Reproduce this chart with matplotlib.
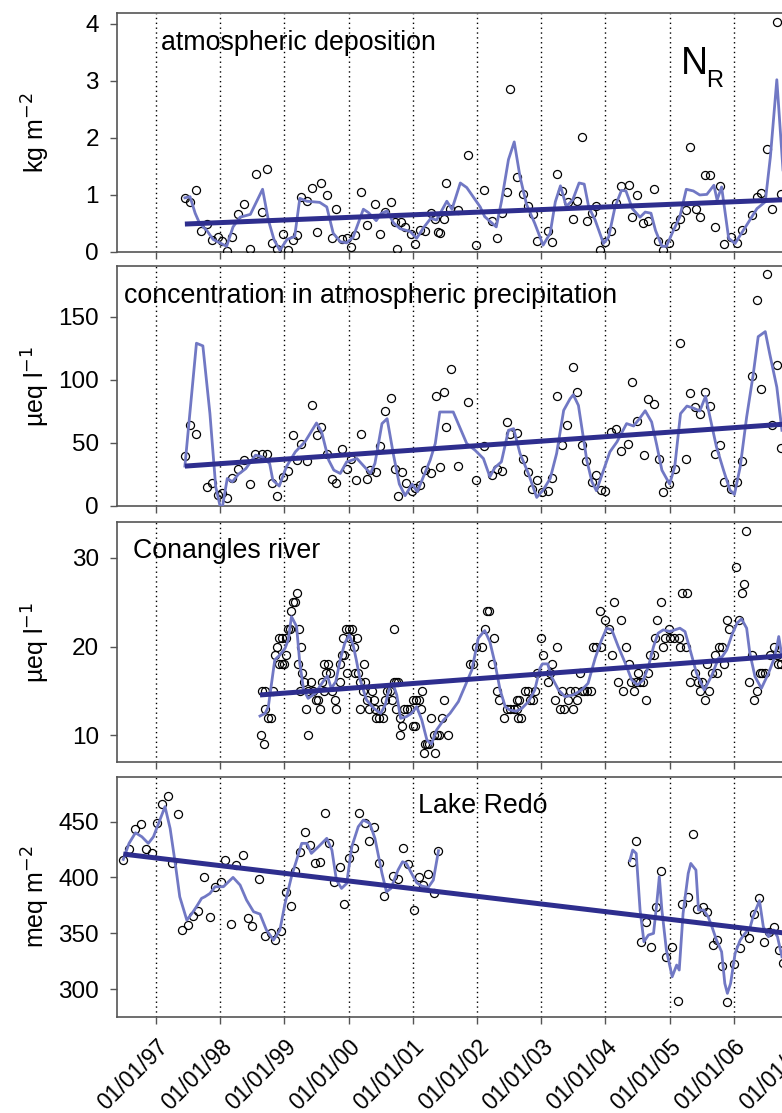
import numpy as np
import matplotlib
matplotlib.use("Agg")
import matplotlib.pyplot as plt

plt.rcParams['font.family'] = ['Liberation Sans', 'DejaVu Sans']

# ---------------- data ----------------
year_ticks = [1997, 1998, 1999, 2000, 2001, 2002, 2003, 2004, 2005, 2006, 2007]
year_labels = ["01/01/97", "01/01/98", "01/01/99", "01/01/00", "01/01/01", "01/01/02",
               "01/01/03", "01/01/04", "01/01/05", "01/01/06", "01/01/07"]

# Panel 1: atmospheric deposition (kg m-2)
dep_t = [1997.45, 1997.53, 1997.62, 1997.70, 1997.79, 1997.88, 1997.96, 1998.03, 1998.11, 1998.19,
         1998.28, 1998.37, 1998.46, 1998.55, 1998.65, 1998.73, 1998.81, 1998.89, 1998.98, 1999.06,
         1999.13, 1999.19, 1999.26, 1999.35, 1999.43, 1999.50, 1999.57, 1999.66, 1999.74, 1999.81,
         1999.90, 1999.97, 2000.04, 2000.10, 2000.19, 2000.28, 2000.41, 2000.49, 2000.57, 2000.66,
         2000.73, 2000.76, 2000.82, 2000.88, 2000.97, 2001.04, 2001.11, 2001.19, 2001.28, 2001.35,
         2001.40, 2001.42, 2001.48, 2001.52, 2001.58, 2001.71, 2001.86, 2001.99, 2002.11, 2002.23,
         2002.31, 2002.39, 2002.47, 2002.52, 2002.63, 2002.71, 2002.79, 2002.88, 2002.94, 2003.10,
         2003.17, 2003.24, 2003.33, 2003.41, 2003.49, 2003.56, 2003.64, 2003.71, 2003.79, 2003.86,
         2003.92, 2003.99, 2004.09, 2004.17, 2004.25, 2004.36, 2004.42, 2004.49, 2004.59, 2004.67,
         2004.75, 2004.82, 2004.90, 2004.99, 2005.09, 2005.16, 2005.25, 2005.32, 2005.41, 2005.48,
         2005.55, 2005.63, 2005.70, 2005.79, 2005.85, 2005.96, 2006.05, 2006.13, 2006.29, 2006.36,
         2006.43, 2006.51, 2006.59, 2006.67, 2006.74]
dep_v = [0.95, 0.88, 1.09, 0.36, 0.49, 0.21, 0.26, 0.20, 0.02, 0.26,
         0.66, 0.85, 0.05, 1.37, 0.70, 1.46, 0.15, 0.06, 0.32, 0.03,
         0.21, 0.29, 0.96, 0.90, 1.12, 0.35, 1.21, 1.00, 0.24, 0.75,
         0.23, 0.24, 0.08, 0.29, 1.05, 0.48, 0.85, 0.31, 0.71, 0.87,
         0.53, 0.06, 0.52, 0.44, 0.31, 0.14, 0.39, 0.37, 0.69, 0.57,
         0.35, 0.34, 0.58, 1.21, 0.76, 0.73, 1.70, 0.13, 1.08, 0.55,
         0.24, 0.69, 1.05, 2.85, 1.31, 1.01, 0.81, 0.67, 0.19, 0.36,
         0.17, 1.37, 1.07, 0.87, 0.58, 0.89, 2.02, 0.55, 0.69, 0.81,
         0.03, 0.17, 0.36, 0.86, 1.15, 1.18, 0.61, 1.00, 0.51, 0.54,
         1.10, 0.19, 0.03, 0.16, 0.46, 0.58, 0.73, 1.84, 0.76, 0.62,
         1.35, 1.35, 0.44, 1.15, 0.14, 0.26, 0.16, 0.39, 0.65, 0.96,
         1.04, 1.81, 0.76, 4.03, 1.02]
dep_smooth_t = [1997.45, 1997.53, 1997.61, 1997.68, 1997.79, 1997.89, 1998.10, 1998.20, 1998.31, 1998.47,
                1998.66, 1998.75, 1998.84, 1998.93, 1999.04, 1999.16, 1999.24, 1999.35, 1999.55, 1999.66,
                1999.76, 1999.87, 1999.97, 2000.07, 2000.23, 2000.31, 2000.43, 2000.51, 2000.60, 2000.70,
                2000.80, 2000.96, 2001.06, 2001.17, 2001.28, 2001.37, 2001.53, 2001.61, 2001.74, 2001.84,
                2002.05, 2002.12, 2002.30, 2002.38, 2002.49, 2002.58, 2002.67, 2002.77, 2002.90, 2003.03,
                2003.14, 2003.22, 2003.30, 2003.39, 2003.49, 2003.59, 2003.67, 2003.74, 2003.84, 2003.97,
                2004.05, 2004.15, 2004.25, 2004.32, 2004.42, 2004.54, 2004.62, 2004.71, 2004.78, 2004.88,
                2004.95, 2005.06, 2005.16, 2005.26, 2005.37, 2005.47, 2005.58, 2005.69, 2005.74, 2005.81,
                2005.92, 2006.02, 2006.12, 2006.25, 2006.36, 2006.49, 2006.57, 2006.67, 2006.77]
dep_smooth_v = [0.95, 0.97, 0.68, 0.50, 0.38, 0.22, 0.10, 0.44, 0.61, 0.66,
                1.10, 0.56, 0.21, 0.03, 0.22, 0.27, 0.94, 0.89, 0.87, 0.79,
                0.33, 0.18, 0.16, 0.26, 0.75, 0.69, 0.55, 0.68, 0.72, 0.51,
                0.41, 0.36, 0.24, 0.43, 0.59, 0.56, 0.89, 0.75, 1.21, 1.13,
                0.79, 0.62, 0.44, 0.88, 1.62, 1.93, 1.32, 0.84, 0.50, 0.12,
                0.33, 0.88, 1.16, 0.80, 0.91, 1.21, 1.19, 0.79, 0.56, 0.15,
                0.26, 0.79, 1.08, 1.07, 0.76, 0.61, 0.70, 0.68, 0.38, 0.10,
                0.10, 0.38, 0.62, 1.10, 1.07, 1.00, 1.01, 1.17, 0.91, 1.14,
                0.24, 0.15, 0.33, 0.56, 0.76, 0.88, 1.67, 3.02, 1.38]
dep_trend_t = [1997.45, 2007.3]
dep_trend_v = [0.49, 0.94]

# Panel 2: concentration in atmospheric precipitation (ueq l-1)
conc_t = [1997.45, 1997.53, 1997.62, 1997.79, 1997.88, 1997.96, 1998.03, 1998.11, 1998.19, 1998.28,
          1998.37, 1998.46, 1998.54, 1998.65, 1998.73, 1998.81, 1998.89, 1998.98, 1999.06, 1999.13,
          1999.19, 1999.26, 1999.35, 1999.43, 1999.50, 1999.57, 1999.66, 1999.74, 1999.81, 1999.90,
          1999.97, 2000.04, 2000.11, 2000.19, 2000.28, 2000.34, 2000.42, 2000.49, 2000.57, 2000.66,
          2000.73, 2000.77, 2000.83, 2000.89, 2000.98, 2001.04, 2001.11, 2001.19, 2001.29, 2001.36,
          2001.42, 2001.48, 2001.52, 2001.60, 2001.71, 2001.86, 2001.99, 2002.11, 2002.23, 2002.31,
          2002.39, 2002.47, 2002.52, 2002.63, 2002.71, 2002.79, 2002.86, 2002.94, 2003.01, 2003.10,
          2003.17, 2003.24, 2003.32, 2003.40, 2003.49, 2003.56, 2003.63, 2003.70, 2003.79, 2003.86,
          2003.93, 2003.99, 2004.09, 2004.17, 2004.25, 2004.35, 2004.42, 2004.49, 2004.60, 2004.67,
          2004.75, 2004.83, 2004.90, 2004.99, 2005.08, 2005.16, 2005.25, 2005.32, 2005.40, 2005.48,
          2005.55, 2005.63, 2005.70, 2005.79, 2005.85, 2005.96, 2006.05, 2006.13, 2006.28, 2006.36,
          2006.43, 2006.51, 2006.59, 2006.67, 2006.73]
conc_v = [39.5, 64.2, 57.1, 14.7, 17.9, 8.7, 10.0, 6.6, 21.8, 29.5,
          36.8, 17.6, 41.6, 41.6, 41.6, 18.4, 7.6, 22.6, 27.6, 56.3,
          36.3, 49.5, 35.3, 80.3, 56.3, 62.4, 41.6, 21.6, 18.4, 45.3,
          29.5, 37.6, 20.3, 57.1, 21.3, 28.2, 26.6, 47.4, 75.0, 85.3,
          29.5, 7.6, 26.6, 18.4, 11.8, 14.5, 16.6, 28.4, 25.8, 87.1,
          31.3, 90.3, 62.4, 108.2, 31.6, 82.1, 20.5, 47.4, 24.5, 29.0,
          27.4, 66.3, 56.9, 58.2, 37.4, 26.6, 13.4, 20.5, 10.8, 11.6,
          22.4, 87.1, 48.4, 64.2, 110.0, 90.0, 48.2, 35.3, 18.7, 24.2,
          12.6, 11.6, 58.4, 61.3, 43.2, 49.5, 97.9, 67.4, 40.8, 84.5,
          81.1, 37.4, 10.8, 17.6, 29.2, 129.0, 37.4, 89.2, 78.4, 73.2,
          90.3, 79.2, 41.6, 48.4, 18.7, 13.4, 18.7, 35.5, 103.2, 162.9,
          92.4, 183.7, 64.5, 111.9, 46.3]
conc_smooth_t = [1997.45, 1997.63, 1997.73, 1997.84, 1997.93, 1998.02, 1998.11, 1998.19, 1998.28, 1998.40,
                 1998.55, 1998.65, 1998.77, 1998.82, 1998.92, 1999.03, 1999.17, 1999.32, 1999.50, 1999.58,
                 1999.69, 1999.77, 1999.87, 1999.97, 2000.13, 2000.28, 2000.34, 2000.41, 2000.52, 2000.60,
                 2000.70, 2000.79, 2000.88, 2000.99, 2001.07, 2001.27, 2001.35, 2001.42, 2001.63, 2001.84,
                 2001.97, 2002.10, 2002.20, 2002.28, 2002.38, 2002.49, 2002.57, 2002.67, 2002.80, 2002.93,
                 2003.03, 2003.14, 2003.24, 2003.35, 2003.45, 2003.50, 2003.58, 2003.71, 2003.79, 2003.86,
                 2004.07, 2004.18, 2004.33, 2004.44, 2004.53, 2004.62, 2004.72, 2004.80, 2004.88, 2005.00,
                 2005.08, 2005.17, 2005.27, 2005.37, 2005.47, 2005.56, 2005.64, 2005.73, 2005.84, 2005.94,
                 2006.01, 2006.10, 2006.20, 2006.30, 2006.38, 2006.49, 2006.56, 2006.67, 2006.75]
conc_smooth_v = [31.6, 129.0, 126.9, 73.2, 15.3, -5.0, 21.8, 19.2, 25.0, 29.7,
                 40.3, 39.0, 33.7, 20.5, 15.8, 31.0, 42.9, 50.8, 65.8, 58.7,
                 36.3, 28.4, 25.8, 35.0, 37.6, 29.2, 25.8, 33.7, 65.3, 69.2,
                 40.3, 17.4, 8.2, 17.4, 11.3, 36.3, 49.5, 74.5, 74.5, 49.5,
                 44.2, 37.6, 23.2, 30.5, 35.0, 60.0, 61.3, 41.6, 25.8, 6.8,
                 12.6, 21.8, 41.6, 75.8, 85.0, 88.2, 79.7, 36.3, 19.2, 12.1,
                 42.9, 50.8, 65.3, 63.4, 69.2, 75.5, 66.6, 48.2, 28.4, 17.4,
                 31.1, 73.2, 79.2, 77.6, 75.3, 86.9, 67.9, 46.8, 28.4, 12.6,
                 9.2, 31.1, 70.5, 103.4, 134.2, 138.2, 120.5, 94.2, 60.0]
conc_trend_t = [1997.45, 2007.3]
conc_trend_v = [31.6, 66.7]

# Panel 3: Conangles river (ueq l-1)
riv_t = [1998.63, 1998.69, 1998.65, 1998.70, 1998.70, 1998.75, 1998.79, 1998.83, 1998.85, 1998.88,
         1998.91, 1998.92, 1998.96, 1998.97, 1999.00, 1999.03, 1999.02, 1999.05, 1999.09, 1999.11,
         1999.14, 1999.16, 1999.19, 1999.23, 1999.26, 1999.21, 1999.24, 1999.28, 1999.31, 1999.34,
         1999.36, 1999.37, 1999.42, 1999.45, 1999.49, 1999.53, 1999.55, 1999.58, 1999.61, 1999.62,
         1999.65, 1999.68, 1999.71, 1999.74, 1999.79, 1999.80, 1999.86, 1999.87, 1999.89, 1999.91,
         1999.93, 1999.96, 1999.97, 2000.00, 2000.02, 2000.05, 2000.08, 2000.10, 2000.13, 2000.15,
         2000.18, 2000.18, 2000.22, 2000.24, 2000.26, 2000.28, 2000.31, 2000.36, 2000.40, 2000.41,
         2000.43, 2000.48, 2000.51, 2000.53, 2000.57, 2000.60, 2000.64, 2000.67, 2000.70, 2000.70,
         2000.74, 2000.74, 2000.77, 2000.80, 2000.80, 2000.83, 2000.86, 2000.91, 2000.96, 2001.00,
         2001.01, 2001.03, 2001.05, 2001.09, 2001.12, 2001.14, 2001.17, 2001.19, 2001.22, 2001.25,
         2001.29, 2001.33, 2001.35, 2001.37, 2001.41, 2001.45, 2001.49, 2001.55, 2001.89, 2001.93,
         2001.99, 2002.08, 2002.12, 2002.15, 2002.19, 2002.24, 2002.27, 2002.31, 2002.34, 2002.42,
         2002.46, 2002.51, 2002.58, 2002.63, 2002.64, 2002.62, 2002.65, 2002.69, 2002.75, 2002.80,
         2002.83, 2002.88, 2002.90, 2002.93, 2003.00, 2003.03, 2003.10, 2003.13, 2003.17, 2003.22,
         2003.25, 2003.29, 2003.33, 2003.36, 2003.41, 2003.45, 2003.49, 2003.52, 2003.56, 2003.60,
         2003.63, 2003.67, 2003.71, 2003.77, 2003.81, 2003.86, 2003.92, 2003.93, 2004.00, 2004.05,
         2004.10, 2004.13, 2004.20, 2004.24, 2004.28, 2004.32, 2004.36, 2004.40, 2004.44, 2004.47,
         2004.51, 2004.54, 2004.58, 2004.63, 2004.67, 2004.70, 2004.75, 2004.77, 2004.81, 2004.86,
         2004.89, 2004.93, 2004.99, 2005.01, 2005.07, 2005.14, 2005.16, 2005.20, 2005.27, 2005.25,
         2005.32, 2005.40, 2005.44, 2005.47, 2005.51, 2005.55, 2005.59, 2005.62, 2005.66, 2005.71,
         2005.74, 2005.77, 2005.82, 2005.85, 2005.89, 2005.93, 2006.03, 2006.08, 2006.12, 2006.16,
         2006.19, 2006.24, 2006.28, 2006.32, 2006.36, 2006.41, 2006.44, 2006.49, 2006.56, 2006.62,
         2006.67, 2006.69, 2006.74]
riv_v = [10, 9, 15, 15, 13, 12, 12, 15, 19, 20,
         18, 21, 18, 21, 18, 19, 21, 22, 22, 24,
         25, 25, 26, 22, 20, 18, 15, 17, 16, 13,
         10, 15, 16, 15, 14, 14, 13, 16, 18, 15,
         17, 18, 17, 15, 14, 13, 16, 18, 19, 21,
         19, 22, 17, 22, 21, 22, 20, 17, 21, 17,
         16, 13, 15, 18, 16, 14, 13, 15, 14, 13,
         12, 12, 13, 12, 14, 15, 15, 14, 22, 16,
         16, 13, 16, 12, 10, 11, 13, 13, 13, 11,
         14, 11, 14, 14, 13, 15, 8, 9, 9, 9,
         12, 10, 8, 10, 10, 12, 14, 10, 18, 18,
         20, 20, 22, 24, 24, 18, 21, 15, 14, 12,
         13, 13, 13, 14, 12, 13, 14, 12, 15, 15,
         14, 14, 15, 17, 21, 19, 16, 17, 18, 14,
         20, 13, 15, 13, 14, 15, 13, 15, 14, 17,
         15, 15, 15, 15, 20, 20, 24, 20, 23, 22,
         19, 25, 16, 23, 15, 20, 18, 16, 15, 16,
         17, 16, 16, 14, 17, 19, 19, 21, 23, 25,
         20, 21, 22, 21, 21, 21, 20, 26, 26, 20,
         16, 17, 16, 15, 16, 14, 18, 15, 17, 19,
         17, 20, 20, 18, 23, 22, 29, 23, 26, 27,
         33, 16, 19, 14, 15, 17, 17, 17, 19, 20,
         19, 18, 18]
riv_smooth_t = [1998.62, 1998.70, 1998.75, 1998.85, 1998.93, 1999.01, 1999.06, 1999.11, 1999.19, 1999.24,
                1999.30, 1999.37, 1999.48, 1999.55, 1999.62, 1999.67, 1999.73, 1999.80, 1999.87, 1999.94,
                2000.01, 2000.07, 2000.12, 2000.18, 2000.28, 2000.39, 2000.50, 2000.57, 2000.64, 2000.69,
                2000.75, 2000.81, 2000.90, 2000.98, 2001.06, 2001.14, 2001.22, 2001.29, 2001.37, 2001.48,
                2001.58, 2001.71, 2001.81, 2001.92, 2002.02, 2002.12, 2002.20, 2002.28, 2002.36, 2002.44,
                2002.51, 2002.61, 2002.70, 2002.80, 2002.90, 2002.98, 2003.02, 2003.10, 2003.16, 2003.27,
                2003.37, 2003.50, 2003.63, 2003.73, 2003.84, 2003.94, 2004.02, 2004.10, 2004.20, 2004.31,
                2004.41, 2004.50, 2004.59, 2004.67, 2004.75, 2004.82, 2004.90, 2005.01, 2005.08, 2005.16,
                2005.24, 2005.32, 2005.42, 2005.54, 2005.66, 2005.76, 2005.82, 2005.89, 2005.97, 2006.05,
                2006.12, 2006.20, 2006.25, 2006.33, 2006.43, 2006.54, 2006.62, 2006.67, 2006.70, 2006.75]
riv_smooth_v = [12.18, 12.48, 13.23, 18.50, 19.06, 19.81, 20.75, 23.38, 22.26, 18.12,
                15.11, 14.17, 14.74, 15.49, 16.24, 16.69, 15.30, 16.05, 18.50, 20.38,
                21.32, 20.19, 18.50, 16.24, 13.98, 13.05, 12.48, 13.42, 15.49, 15.86,
                14.55, 11.92, 12.11, 12.48, 13.23, 11.73, 9.47, 9.02, 10.60, 11.73,
                12.48, 13.80, 15.49, 17.37, 20.94, 21.80, 20.56, 18.12, 15.11, 13.23,
                12.86, 12.72, 13.05, 13.80, 15.11, 17.56, 18.05, 18.05, 16.62, 15.11,
                14.36, 14.55, 15.11, 15.86, 18.68, 20.75, 22.07, 21.88, 20.00, 18.12,
                16.24, 15.68, 16.24, 17.74, 20.00, 21.50, 21.88, 21.69, 21.88, 22.07,
                21.69, 19.62, 16.99, 15.11, 16.80, 18.68, 18.87, 19.62, 21.32, 22.63,
                23.12, 22.07, 19.25, 16.62, 15.30, 16.99, 18.50, 20.00, 21.13, 18.87]
riv_trend_t = [1998.62, 2007.3]
riv_trend_v = [14.55, 19.25]

# Panel 4: Lake Redo (meq m-2)
lake_t = [1996.49, 1996.58, 1996.68, 1996.76, 1996.84, 1996.94, 1997.02, 1997.10, 1997.18, 1997.25,
          1997.34, 1997.41, 1997.50, 1997.58, 1997.66, 1997.75, 1997.84, 1997.92, 1998.01, 1998.08,
          1998.17, 1998.25, 1998.35, 1998.44, 1998.50, 1998.61, 1998.70, 1998.79, 1998.86, 1998.94,
          1999.02, 1999.10, 1999.17, 1999.24, 1999.32, 1999.40, 1999.48, 1999.55, 1999.63, 1999.70,
          1999.78, 1999.86, 1999.93, 2000.01, 2000.09, 2000.16, 2000.26, 2000.31, 2000.39, 2000.47,
          2000.55, 2000.69, 2000.77, 2000.85, 2000.93, 2001.02, 2001.09, 2001.16, 2001.24, 2001.33,
          2001.39,
          2004.41, 2004.48, 2004.55, 2004.63, 2004.71, 2004.79, 2004.86, 2004.94, 2005.04, 2005.13,
          2005.20, 2005.28, 2005.36, 2005.43, 2005.52, 2005.59, 2005.67, 2005.74, 2005.82, 2005.90,
          2006.00, 2006.09, 2006.16, 2006.24, 2006.31, 2006.39, 2006.47, 2006.55, 2006.63, 2006.70,
          2006.77]
lake_v = [415.6, 425.2, 443.7, 448.2, 425.2, 421.9, 448.5, 465.8, 473.0, 412.9,
          457.2, 353.2, 357.3, 365.4, 370.2, 400.1, 364.5, 391.1, 395.9, 415.3,
          358.2, 411.1, 420.1, 363.6, 356.4, 398.9, 347.2, 350.2, 344.2, 352.0,
          386.9, 374.4, 405.8, 422.5, 441.0, 429.1, 413.2, 414.1, 458.1, 431.2,
          395.6, 409.0, 376.2, 417.1, 426.1, 458.1, 448.5, 433.0, 444.9, 413.2,
          383.0, 401.0, 398.3, 426.1, 412.0, 371.1, 400.1, 393.2, 403.1, 386.0,
          424.0,
          413.8, 433.0, 342.1, 359.7, 337.3, 373.2, 406.1, 328.9, 337.9, 289.2,
          376.2, 382.1, 438.9, 371.4, 373.8, 369.0, 339.4, 344.2, 320.3, 288.3,
          322.1, 336.4, 350.8, 345.4, 367.2, 381.3, 342.1, 350.8, 355.8, 334.9,
          323.0]
lake_smooth1_t = [1996.49, 1996.58, 1996.68, 1996.78, 1996.88, 1996.96, 1997.04, 1997.14, 1997.22, 1997.30,
                  1997.37, 1997.48, 1997.56, 1997.63, 1997.71, 1997.76, 1997.84, 1997.92, 1998.05, 1998.13,
                  1998.20, 1998.31, 1998.41, 1998.52, 1998.62, 1998.72, 1998.83, 1998.93, 1999.01, 1999.11,
                  1999.19, 1999.27, 1999.35, 1999.42, 1999.53, 1999.66, 1999.74, 1999.81, 1999.89, 1999.97,
                  2000.05, 2000.15, 2000.23, 2000.33, 2000.41, 2000.52, 2000.59, 2000.66, 2000.77, 2000.84,
                  2000.90, 2000.98, 2001.06, 2001.14, 2001.24, 2001.32, 2001.40]
lake_smooth1_v = [416.2, 430.6, 440.1, 436.5, 430.6, 436.5, 448.5, 463.5, 444.0, 412.6,
                  382.7, 361.8, 367.8, 373.8, 381.3, 382.7, 385.7, 391.7, 391.7, 396.2,
                  400.1, 393.2, 379.8, 369.3, 367.2, 352.9, 343.9, 352.9, 376.8, 400.7,
                  415.6, 430.6, 430.6, 421.6, 427.6, 435.1, 424.6, 397.7, 390.2, 394.7,
                  427.6, 445.5, 451.5, 448.5, 435.1, 403.7, 387.2, 390.2, 406.7, 414.1,
                  412.6, 403.7, 395.3, 392.3, 391.1, 397.7, 424.0]
lake_smooth2_t = [2004.38, 2004.425, 2004.48, 2004.54, 2004.60, 2004.67, 2004.75, 2004.80, 2004.84, 2004.88,
                  2004.95, 2005.04, 2005.11, 2005.15, 2005.21, 2005.29, 2005.33, 2005.37, 2005.41, 2005.45,
                  2005.53, 2005.60, 2005.66, 2005.73, 2005.81, 2005.86, 2005.90, 2005.95, 2006.02, 2006.10,
                  2006.175, 2006.25, 2006.30, 2006.40, 2006.46, 2006.54, 2006.62, 2006.68, 2006.75]
lake_smooth2_v = [415.0, 424.6, 421.6, 370.8, 342.4, 348.4, 349.9, 376.8, 400.7, 370.8,
                  334.9, 311.0, 321.5, 317.0, 367.8, 403.7, 412.6, 409.6, 406.7, 370.8,
                  370.8, 364.8, 355.8, 343.9, 333.4, 305.0, 296.1, 305.0, 331.9, 343.9,
                  349.9, 354.4, 364.8, 379.2, 355.8, 346.9, 352.9, 346.9, 328.9]
lake_trend_t = [1996.49, 2007.3]
lake_trend_v = [421.0, 346.7]

# ---------------- layout ----------------
W, H = 782, 1113
fig = plt.figure(figsize=(W / 100, H / 100), dpi=100)

px_per_year = 64.2
x0_px = 117
x_left = 1997 - (156 - x0_px) / px_per_year
x_right = 2007.6
ax_w = (x_right - x_left) * px_per_year / W

panels = [  # (top px, bottom px)
    (13, 252), (266, 506), (522, 762), (777, 1017)
]
ylims = [(0, 4.19), (0, 190.2), (7.0, 34.03), (274.9, 490.1)]
yticks = [[0, 1, 2, 3, 4], [0, 50, 100, 150], [10, 20, 30], [300, 350, 400, 450]]
ylabels = ["kg m$^{-2}$", "µeq l$^{-1}$", "µeq l$^{-1}$", "meq m$^{-2}$"]

smooth_c = "#7178c4"
trend_c = "#2e2e8e"
spine_c = "#555555"
title_fs = 19.3

axes = []
for i, (top, bot) in enumerate(panels):
    ax = fig.add_axes([x0_px / W, (H - bot) / H, ax_w, (bot - top) / H])
    ax.set_xlim(x_left, x_right)
    ax.set_ylim(*ylims[i])
    ax.set_yticks(yticks[i])
    ax.set_xticks(year_ticks)
    for s in ["left", "bottom", "top"]:
        ax.spines[s].set_color(spine_c)
        ax.spines[s].set_linewidth(1.2)
    ax.spines["right"].set_visible(False)
    ax.tick_params(axis="both", direction="out", length=5, width=1, color=spine_c,
                   labelsize=17.5)
    ax.tick_params(axis="y", pad=8)
    ax.tick_params(axis="x", pad=8)
    for yr in year_ticks:
        ax.axvline(yr, color="black", linestyle=(0, (1, 2.5)), linewidth=1.0, zorder=1)
    if i < 3:
        ax.set_xticklabels([])
    else:
        ax.set_xticklabels(year_labels, rotation=45, ha="right", va="top",
                           rotation_mode="anchor", fontsize=16.5)
    fig.text(36 / W, (H - (top + bot) / 2) / H, ylabels[i], rotation=90,
             ha="center", va="center", fontsize=18)
    axes.append(ax)

mk = dict(linestyle="none", marker="o", ms=5.8, mfc="none", mec="black", mew=0.9, zorder=3)
sm = dict(color=smooth_c, lw=2.0, zorder=4)
tr = dict(color=trend_c, lw=3.6, zorder=5, solid_capstyle="butt")

ax = axes[0]
ax.plot(dep_t, dep_v, **mk)
ax.plot(dep_smooth_t, dep_smooth_v, **sm)
ax.plot(dep_trend_t, dep_trend_v, **tr)
ax.text((161 - x0_px) / (ax_w * W), 0.874, "atmospheric deposition", transform=ax.transAxes,
        fontsize=title_fs, ha="left", va="center")
ax.text((681 - x0_px) / (ax_w * W), 0.745, "N", transform=ax.transAxes,
        fontsize=27, ha="left", va="baseline")
ax.text((706 - x0_px) / (ax_w * W), 0.690, "R", transform=ax.transAxes,
        fontsize=17, ha="left", va="baseline")

ax = axes[1]
ax.plot(conc_t, conc_v, **mk)
ax.plot(conc_smooth_t, conc_smooth_v, **sm)
ax.plot(conc_trend_t, conc_trend_v, **tr)
ax.text((124 - x0_px) / (ax_w * W), 0.875, "concentration in atmospheric precipitation",
        transform=ax.transAxes, fontsize=title_fs, ha="left", va="center")

ax = axes[2]
ax.plot(riv_t, riv_v, **mk)
ax.plot(riv_smooth_t, riv_smooth_v, **sm)
ax.plot(riv_trend_t, riv_trend_v, **tr)
ax.text((133 - x0_px) / (ax_w * W), 0.879, "Conangles river",
        transform=ax.transAxes, fontsize=title_fs, ha="left", va="center")

ax = axes[3]
ax.plot(lake_t, lake_v, **mk)
ax.plot(lake_smooth1_t, lake_smooth1_v, **sm)
ax.plot(lake_smooth2_t, lake_smooth2_v, **sm)
ax.plot(lake_trend_t, lake_trend_v, **tr)
ax.text((418 - x0_px) / (ax_w * W), 0.879, "Lake Redó",
        transform=ax.transAxes, fontsize=title_fs, ha="left", va="center")

fig.savefig("out.png", dpi=100)
